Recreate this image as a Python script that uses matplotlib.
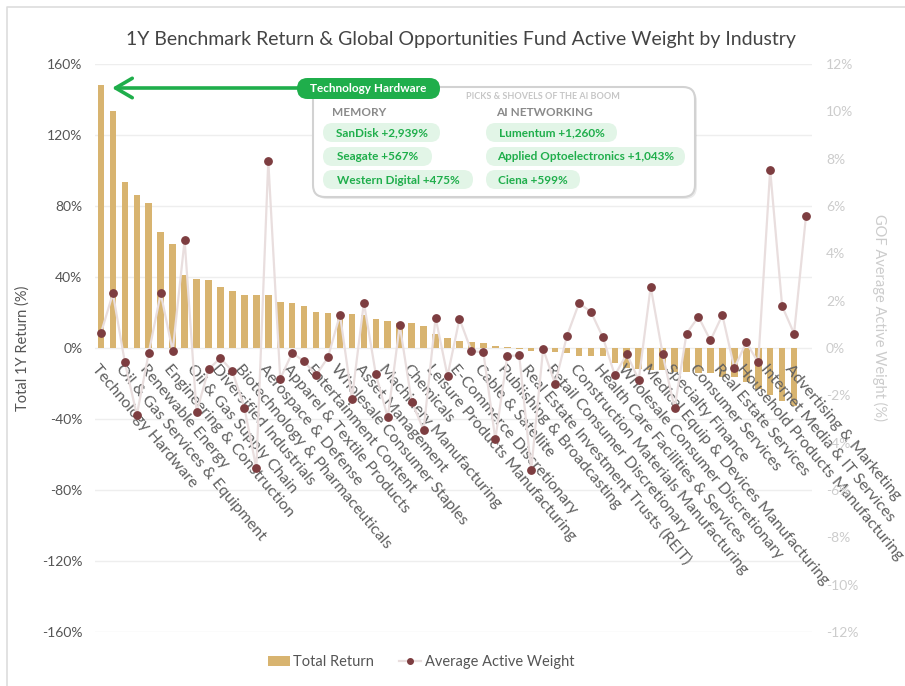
import matplotlib
import matplotlib.pyplot as plt
import matplotlib.transforms as mtransforms
from matplotlib.patches import FancyBboxPatch, Patch
from matplotlib.lines import Line2D
import numpy as np

matplotlib.use('agg')

# Industries shown on the axis (every other category is labelled)
tick_labels = [
    "Technology Hardware", "Oil & Gas Services & Equipment", "Renewable Energy",
    "Engineering & Construction", "Oil & Gas Supply Chain", "Diversified Industrials",
    "Biotechnology & Pharmaceuticals", "Aerospace & Defense", "Apparel & Textile Products",
    "Entertainment Content", "Wholesale Consumer Staples", "Asset Management",
    "Machinery Manufacturing", "Chemicals", "Leisure Products Manufacturing",
    "E-Commerce Discretionary", "Cable & Satellite", "Publishing & Broadcasting",
    "Real Estate Investment Trusts (REIT)", "Retail Consumer Discretionary",
    "Construction Materials Manufacturing", "Health Care Facilities & Services",
    "Wholesale Consumer Discretionary", "Medical Equip & Devices Manufacturing",
    "Specialty Finance", "Consumer Services", "Real Estate Services",
    "Household Products Manufacturing", "Internet Media & IT Services",
    "Advertising & Marketing",
]

# 1Y benchmark total return (%) per industry
total_return = [
    148.2, 133.5, 93.3, 86.2, 81.5, 65.2, 58.4, 41.1, 39.0, 38.1,
    34.2, 31.9, 29.7, 29.7, 29.7, 25.9, 25.4, 23.7, 20.1, 19.9,
    19.5, 19.2, 18.4, 16.2, 15.0, 14.3, 13.9, 12.2, 8.1, 5.4,
    3.9, 3.2, 2.8, 1.3, 0.4, -0.5, -1.9, -2.3, -2.4, -2.6,
    -4.3, -4.3, -4.3, -8.6, -11.3, -11.8, -12.4, -12.6, -13.3, -13.5,
    -13.9, -13.9, -16.1, -16.1, -19.0, -23.3, -26.5, -29.7, -32.7, 0.0,
]

# GOF average active weight (%) per industry
active_weight = [
    0.63, 2.31, -0.61, -2.83, -0.20, 2.31, -0.13, 4.56, -2.72, -0.90,
    -0.42, -0.99, -2.52, -5.08, 7.91, -1.30, -0.21, -0.56, -1.15, -0.39,
    1.41, -2.15, 1.92, -1.11, -2.93, 0.96, -2.27, -3.46, 1.28, -1.18,
    1.23, -0.13, -0.18, -3.86, -0.34, -0.31, -5.15, -0.04, -1.51, 0.52,
    1.89, 1.53, 0.45, -1.15, -0.25, -1.35, 2.59, -0.25, -2.55, 0.61,
    1.32, 0.32, 1.39, -0.85, 0.24, -0.61, 7.53, 1.77, 0.61, 5.59,
]

left_ticks = list(range(-160, 161, 40))
right_ticks = list(range(-12, 13, 2))

memory_picks = ["SanDisk +2,939%", "Seagate +567%", "Western Digital +475%"]
networking_picks = ["Lumentum +1,260%", "Applied Optoelectronics +1,043%", "Ciena +599%"]

BAR = '#d8b470'
DOT = '#7d3d40'
LINE = '#e9dede'
GREEN = '#1fae4b'
PILL_BG = '#e2f5e7'
FONT = 'Lato'

plt.rcParams['font.family'] = [FONT, 'DejaVu Sans']

W, H = 905, 686
fig = plt.figure(figsize=(W / 100, H / 100), dpi=100)
fig.patch.set_facecolor('white')

# Plot area in pixels: x 95..812, y 64..632
ax = fig.add_axes([95 / W, 1 - 632 / H, (812 - 95) / W, (632 - 64) / H])
x = np.arange(len(total_return))

ax.bar(x, total_return, width=0.55, color=BAR, zorder=2)
ax.set_xlim(-0.5, len(total_return) - 0.5)
ax.set_ylim(-160, 160)
ax.set_yticks(left_ticks)
ax.set_yticklabels([f"{t}%" for t in left_ticks])
ax.set_xticks([])
ax.grid(axis='y', color='#eeeeee', linewidth=1, zorder=0)
ax.set_axisbelow(True)
ax.tick_params(axis='y', length=0, pad=9, labelsize=10, labelcolor='#555555')
for s in ax.spines.values():
    s.set_visible(False)
ax.set_ylabel("Total 1Y Return (%)", fontsize=10.5, color='#555555', labelpad=9)

# Category labels hang just below the zero line
label_tr = mtransforms.offset_copy(ax.transData, fig=fig, x=-1, y=-10, units='points')
for i, name in enumerate(tick_labels):
    ax.text(2 * i, 0, name, transform=label_tr, rotation=-50, rotation_mode='anchor',
            ha='left', va='top', fontsize=11.5, color='#606060', clip_on=False, zorder=3)

ax2 = ax.twinx()
ax2.plot(x, active_weight, color=LINE, linewidth=1.6, marker='o', markersize=5.3,
         markerfacecolor=DOT, markeredgecolor=DOT, zorder=4)
ax2.set_ylim(-12, 12)
ax2.set_yticks(right_ticks)
ax2.set_yticklabels([f"{t}%" for t in right_ticks])
ax2.tick_params(axis='y', length=0, pad=10, labelsize=10, labelcolor='#cccccc')
for s in ax2.spines.values():
    s.set_visible(False)

fig.text(880 / W, 1 - 318 / H, "GOF Average Active Weight (%)", rotation=270,
         ha='center', va='center', fontsize=10.5, color='#cccccc')

fig.text(461 / W, 1 - 40 / H,
         "1Y Benchmark Return & Global Opportunities Fund Active Weight by Industry",
         ha='center', va='center', fontsize=14, color='#444444')

# Legend
handles = [
    Patch(facecolor=BAR, edgecolor='none'),
    Line2D([0], [0], color=LINE, linewidth=1.6, marker='o', markersize=4,
           markerfacecolor=DOT, markeredgecolor=DOT),
]
leg = fig.legend(handles, ["Total Return", "Average Active Weight"], loc='center',
                 bbox_to_anchor=(421 / W, 1 - 662 / H), ncol=2, frameon=False,
                 fontsize=10.5, handlelength=1.5, handletextpad=0.25, columnspacing=1.7)
for t in leg.get_texts():
    t.set_color('#555555')

# Overlay in pixel coordinates for the callout
ov = fig.add_axes([0, 0, 1, 1], zorder=10)
ov.set_xlim(0, W)
ov.set_ylim(H, 0)
ov.axis('off')
ov.patch.set_alpha(0)

# outer frame (top and left edges visible)
ov.plot([7, 7, W], [H, 7, 7], color='#dddddd', linewidth=1.2)


def pill(x0, y0, x1, y1, face, text, tcolor, size):
    h = y1 - y0
    ov.add_patch(FancyBboxPatch((x0, y0), x1 - x0, h,
                                boxstyle=f"round,pad=0,rounding_size={h / 2}",
                                facecolor=face, edgecolor='none'))
    ov.text((x0 + x1) / 2, (y0 + y1) / 2 + 0.5, text, ha='center', va='center',
            fontsize=size, fontweight='bold', color=tcolor)


# callout box with a soft shadow
ov.add_patch(FancyBboxPatch((315, 89), 382, 110, boxstyle="round,pad=0,rounding_size=12",
                            facecolor='#00000014', edgecolor='none'))
ov.add_patch(FancyBboxPatch((313, 87), 382, 110, boxstyle="round,pad=0,rounding_size=12",
                            facecolor='white', edgecolor='#d2d2d2', linewidth=1.5))

ov.annotate('', xy=(112, 88), xytext=(300, 88),
            arrowprops=dict(arrowstyle='->,head_length=0.6,head_width=0.35',
                            color=GREEN, lw=2.6, mutation_scale=20, shrinkA=0, shrinkB=0))
pill(297, 78, 440, 99, GREEN, "Technology Hardware", 'white', 8.5)

ov.text(543, 96.5, "PICKS & SHOVELS OF THE AI BOOM", ha='center', va='center',
        fontsize=6.5, fontweight='bold', color='#c6c6c6')
ov.text(332, 113, "MEMORY", ha='left', va='center', fontsize=8.5,
        fontweight='bold', color='#8a8a8a')
ov.text(496, 113, "AI NETWORKING", ha='left', va='center', fontsize=8.5,
        fontweight='bold', color='#8a8a8a')

left_ends = [440, 432, 473]
right_ends = [617, 685, 580]
rows = [(123, 142), (147, 166), (170, 189)]
for (y0, y1), name, xe in zip(rows, memory_picks, left_ends):
    pill(323, y0, xe, y1, PILL_BG, name, GREEN, 8.5)
for (y0, y1), name, xe in zip(rows, networking_picks, right_ends):
    pill(486, y0, xe, y1, PILL_BG, name, GREEN, 8.5)

fig.savefig('out.png', dpi=100)
